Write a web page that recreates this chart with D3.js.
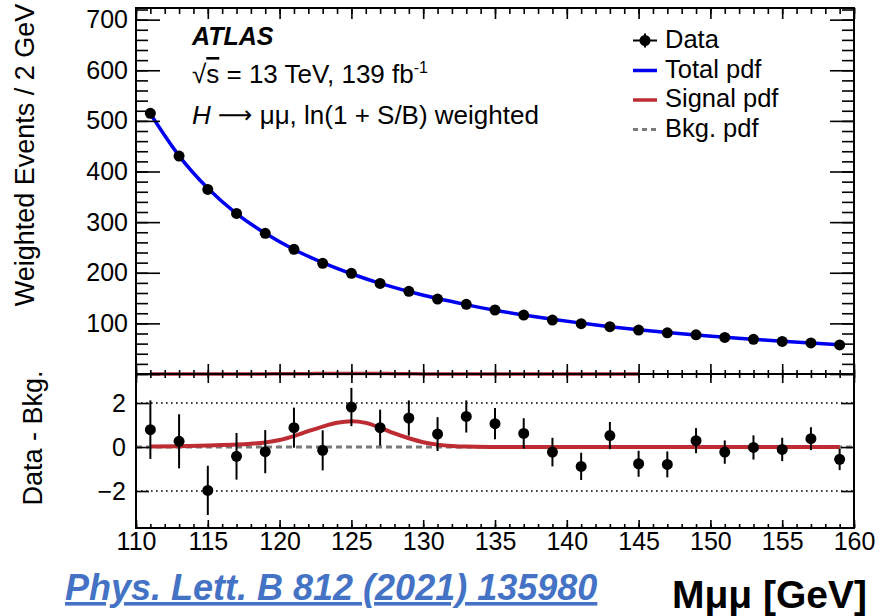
<!DOCTYPE html>
<html><head><meta charset="utf-8">
<script src="https://cdn.jsdelivr.net/npm/d3@7"></script>
<style>
body{margin:0;background:#fff}
svg{display:block}
text{font-family:"Liberation Sans",Arial,Helvetica,sans-serif}
</style>
</head><body>
<svg id="chart" width="884" height="616"></svg>
<script>
// ---------------- data ----------------
const massBins = [111,113,115,117,119,121,123,125,127,129,131,133,135,137,139,141,143,145,147,149,151,153,155,157,159];
const weightedEvents = [515,430.5,364.7,317.3,277.8,246.2,218.6,198.8,179,163.3,148,137.6,126.4,116.5,106.6,99.5,93.5,86.8,81.3,77.3,72.3,68.5,64.4,61.4,57.4];
const residuals = [0.79,0.26,-1.97,-0.42,-0.21,0.88,-0.15,1.82,0.88,1.32,0.59,1.39,1.06,0.62,-0.23,-0.88,0.52,-0.76,-0.79,0.29,-0.23,-0.02,-0.11,0.38,-0.56];
const residualErrors = [1.33,1.23,1.12,1.06,0.98,0.91,0.91,0.87,0.82,0.80,0.77,0.73,0.71,0.69,0.65,0.62,0.62,0.59,0.59,0.57,0.53,0.55,0.53,0.52,0.49];
const pdfMass = [111,113,115,117,119,121,123,125,127,129,131,133,135,137,139,141,143,145,147,149,151,153,155,157,159];
const totalPdf = [514,431,367,317,278,246,220,198,179,163,149,137,126,116.5,108,100.5,93.5,87.5,82,77,72.5,68.5,64.5,61,58];
const signalMass = [111,113,115,117,118,119,120,121,122,123,124,125,126,127,128,129,130,131,132,133,135,137,140,145,150,155,159];
const signalPdf = [0.02,0.04,0.07,0.11,0.15,0.21,0.32,0.5,0.72,0.93,1.1,1.17,1.1,0.88,0.62,0.4,0.22,0.11,0.05,0.02,0.005,0,0,0,0,0,0];
const bkgRange = [110,160];
const xTicks = [110,115,120,125,130,135,140,145,150,155,160];
const xMinorTicks = d3.range(110,161,1);
const upperTicks = [0,100,200,300,400,500,600,700];
const upperMinorTicks = d3.range(0,721,20);
const lowerTicks = [-2,0,2];
const legendLabels = ["Data","Total pdf","Signal pdf","Bkg. pdf"];

// ---------------- layout ----------------
const svg = d3.select("#chart");
const L = 136, R = 854, T = 8, MID = 374, B = 528;
const FONT = '"Liberation Sans",Arial,Helvetica,sans-serif';
const BLUE = "#0000f0", RED = "#bd2b33", GREY = "#7a7a7a";
const MR = 5.5;

const x = d3.scaleLinear().domain([110,160]).range([L,R]);
const yUp = d3.scaleLinear().domain([0,723]).range([MID,T]);
const yLo = d3.scaleLinear().domain([-3.68,3.32]).range([B,MID]);

// ---------------- upper panel ----------------
const up = svg.append("g");
up.append("path")
  .datum(signalMass.map((m,i)=>[m,signalPdf[i]]).filter(d=>d[0]<=145))
  .attr("d", d3.line().x(d=>x(d[0])).y(d=>yUp(d[1])).curve(d3.curveMonotoneX))
  .attr("fill","none").attr("stroke",RED).attr("stroke-width",3.5);
up.append("path")
  .datum(pdfMass.map((m,i)=>[m,totalPdf[i]]))
  .attr("d", d3.line().x(d=>x(d[0])).y(d=>yUp(d[1])).curve(d3.curveMonotoneX))
  .attr("fill","none").attr("stroke",BLUE).attr("stroke-width",3.5);
const upPts = up.selectAll("g.pt").data(massBins.map((m,i)=>({m,v:weightedEvents[i],e:residualErrors[i]})))
  .join("g").attr("class","pt");
upPts.append("line").attr("x1",d=>x(d.m)).attr("x2",d=>x(d.m))
  .attr("y1",d=>yUp(d.v+d.e)).attr("y2",d=>yUp(d.v-d.e)).attr("stroke","#000").attr("stroke-width",2);
upPts.append("circle").attr("cx",d=>x(d.m)).attr("cy",d=>yUp(d.v)).attr("r",MR).attr("fill","#000");

// ---------------- lower panel ----------------
const lo = svg.append("g");
[-2,2].forEach(v=>{
  lo.append("line").attr("x1",L).attr("x2",R).attr("y1",yLo(v)).attr("y2",yLo(v))
    .attr("stroke","#000").attr("stroke-width",1.6).attr("stroke-dasharray","1.6,3.4");
});
lo.append("path")
  .datum(bkgRange.map(m=>[m,0]))
  .attr("d", d3.line().x(d=>x(d[0])).y(d=>yLo(d[1])))
  .attr("fill","none").attr("stroke",GREY).attr("stroke-width",3).attr("stroke-dasharray","6,4");
lo.append("path")
  .datum(signalMass.map((m,i)=>[m,signalPdf[i]]))
  .attr("d", d3.line().x(d=>x(d[0])).y(d=>yLo(d[1])).curve(d3.curveMonotoneX))
  .attr("fill","none").attr("stroke",RED).attr("stroke-width",4);
const loPts = lo.selectAll("g.pt").data(massBins.map((m,i)=>({m,v:residuals[i],e:residualErrors[i]})))
  .join("g").attr("class","pt");
loPts.append("line").attr("x1",d=>x(d.m)).attr("x2",d=>x(d.m))
  .attr("y1",d=>yLo(d.v+d.e)).attr("y2",d=>yLo(d.v-d.e)).attr("stroke","#000").attr("stroke-width",2);
loPts.append("circle").attr("cx",d=>x(d.m)).attr("cy",d=>yLo(d.v)).attr("r",MR).attr("fill","#000");

// ---------------- axes ----------------
function drawAxis(gen, tx, ty, showLabels){
  const g = svg.append("g").attr("transform",`translate(${tx},${ty})`).call(gen);
  g.select(".domain").remove();
  g.selectAll(".tick line").attr("stroke","#000").attr("stroke-width",1.6);
  g.attr("font-family",FONT).attr("font-size",25);
  g.selectAll(".tick text").attr("fill","#000");
  if(!showLabels) g.selectAll(".tick text").remove();
  return g;
}
const noFmt = ()=>"";
const intFmt = d3.format("d");
drawAxis(d3.axisLeft(yUp).tickValues(upperMinorTicks).tickSizeInner(-12).tickSizeOuter(0).tickFormat(noFmt), L,0,false);
drawAxis(d3.axisRight(yUp).tickValues(upperMinorTicks).tickSizeInner(-12).tickSizeOuter(0).tickFormat(noFmt), R,0,false);
const ul = drawAxis(d3.axisLeft(yUp).tickValues(upperTicks).tickSizeInner(-24).tickSizeOuter(0).tickPadding(8).tickFormat(intFmt), L,0,true);
ul.selectAll(".tick").filter(d=>d===0).select("text").remove();
drawAxis(d3.axisRight(yUp).tickValues(upperTicks).tickSizeInner(-24).tickSizeOuter(0).tickFormat(noFmt), R,0,false);
drawAxis(d3.axisTop(x).tickValues(xMinorTicks).tickSizeInner(-6).tickSizeOuter(0).tickFormat(noFmt),0,T,false);
drawAxis(d3.axisTop(x).tickValues(xTicks).tickSizeInner(-11).tickSizeOuter(0).tickFormat(noFmt),0,T,false);
drawAxis(d3.axisBottom(x).tickValues(xMinorTicks).tickSizeInner(-4).tickSizeOuter(0).tickFormat(noFmt),0,MID,false);
drawAxis(d3.axisBottom(x).tickValues(xTicks).tickSizeInner(-10).tickSizeOuter(0).tickFormat(noFmt),0,MID,false);
drawAxis(d3.axisTop(x).tickValues(xMinorTicks).tickSizeInner(-4).tickSizeOuter(0).tickFormat(noFmt),0,MID,false);
drawAxis(d3.axisTop(x).tickValues(xTicks).tickSizeInner(-9).tickSizeOuter(0).tickFormat(noFmt),0,MID,false);
drawAxis(d3.axisBottom(x).tickValues(xMinorTicks).tickSizeInner(-4).tickSizeOuter(0).tickFormat(noFmt),0,B,false);
drawAxis(d3.axisBottom(x).tickValues(xTicks).tickSizeInner(-8).tickSizeOuter(0).tickPadding(4).tickFormat(intFmt),0,B,true);
drawAxis(d3.axisLeft(yLo).tickValues(lowerTicks).tickSizeInner(-13).tickSizeOuter(0).tickPadding(10).tickFormat(intFmt),L,0,true);
drawAxis(d3.axisRight(yLo).tickValues(lowerTicks).tickSizeInner(-13).tickSizeOuter(0).tickFormat(noFmt),R,0,false);

svg.append("rect").attr("x",L).attr("y",T).attr("width",R-L).attr("height",MID-T)
  .attr("fill","none").attr("stroke","#000").attr("stroke-width",2);
svg.append("rect").attr("x",L).attr("y",MID).attr("width",R-L).attr("height",B-MID)
  .attr("fill","none").attr("stroke","#000").attr("stroke-width",2);

// ---------------- axis titles ----------------
svg.append("text").attr("transform","translate(34,155) rotate(-90)")
  .attr("text-anchor","middle").attr("font-size",27).attr("fill","#000").text("Weighted Events / 2 GeV");
svg.append("text").attr("transform","translate(42,438) rotate(-90)")
  .attr("text-anchor","middle").attr("font-size",27).attr("fill","#000").text("Data - Bkg.");

// ---------------- labels ----------------
svg.append("text").attr("x",192).attr("y",45).attr("font-size",25).attr("font-weight","bold")
  .attr("font-style","italic").attr("fill","#000").text("ATLAS");
const t2 = svg.append("text").attr("x",192).attr("y",83).attr("font-size",26).attr("fill","#000");
t2.append("tspan").text("\u221A");
t2.append("tspan").attr("text-decoration","overline").text("s");
t2.append("tspan").text(" = 13 TeV, 139 fb");
t2.append("tspan").attr("font-size",16).attr("dy",-10).text("-1");
const t3 = svg.append("text").attr("x",192).attr("y",124).attr("font-size",26).attr("fill","#000");
t3.append("tspan").attr("font-style","italic").text("H");
t3.append("tspan").text(" ");
t3.append("tspan").attr("font-family","'DejaVu Sans'").attr("font-size",24).attr("dy",-1).text("\u27F6");
t3.append("tspan").attr("dy",1).text(" \u03BC\u03BC, ln(1 + S/B) weighted");

// ---------------- legend ----------------
const lg = svg.append("g");
const lgBase = [48,77.5,107,136.5];
const lgX1 = 633, lgX2 = 657, lgTx = 665;
legendLabels.forEach((lab,i)=>{
  lg.append("text").attr("x",lgTx).attr("y",lgBase[i]).attr("font-size",25.5).attr("fill","#000").text(lab);
});
const cy0 = lgBase[0]-7.5;
lg.append("line").attr("x1",lgX1).attr("x2",lgX2).attr("y1",cy0).attr("y2",cy0).attr("stroke","#000").attr("stroke-width",2);
lg.append("line").attr("x1",(lgX1+lgX2)/2).attr("x2",(lgX1+lgX2)/2).attr("y1",cy0-7).attr("y2",cy0+7).attr("stroke","#000").attr("stroke-width",2);
lg.append("circle").attr("cx",(lgX1+lgX2)/2).attr("cy",cy0).attr("r",MR).attr("fill","#000");
lg.append("line").attr("x1",lgX1).attr("x2",lgX2).attr("y1",lgBase[1]-7).attr("y2",lgBase[1]-7).attr("stroke",BLUE).attr("stroke-width",3.5);
lg.append("line").attr("x1",lgX1).attr("x2",lgX2).attr("y1",lgBase[2]-7).attr("y2",lgBase[2]-7).attr("stroke",RED).attr("stroke-width",3.5);
lg.append("line").attr("x1",lgX1).attr("x2",lgX2).attr("y1",lgBase[3]-7).attr("y2",lgBase[3]-7).attr("stroke",GREY).attr("stroke-width",3).attr("stroke-dasharray","5,4");

// ---------------- footer ----------------
svg.append("text").attr("x",65).attr("y",600).attr("font-size",36).attr("font-weight","bold")
  .attr("font-style","italic").attr("fill","#4472c4").attr("text-decoration","underline")
  .text("Phys. Lett. B 812 (2021) 135980");
svg.append("text").attr("x",867).attr("y",608).attr("text-anchor","end").attr("font-size",39)
  .attr("font-weight","bold").attr("fill","#000").text("M\u03BC\u03BC [GeV]");
</script>
</body></html>
